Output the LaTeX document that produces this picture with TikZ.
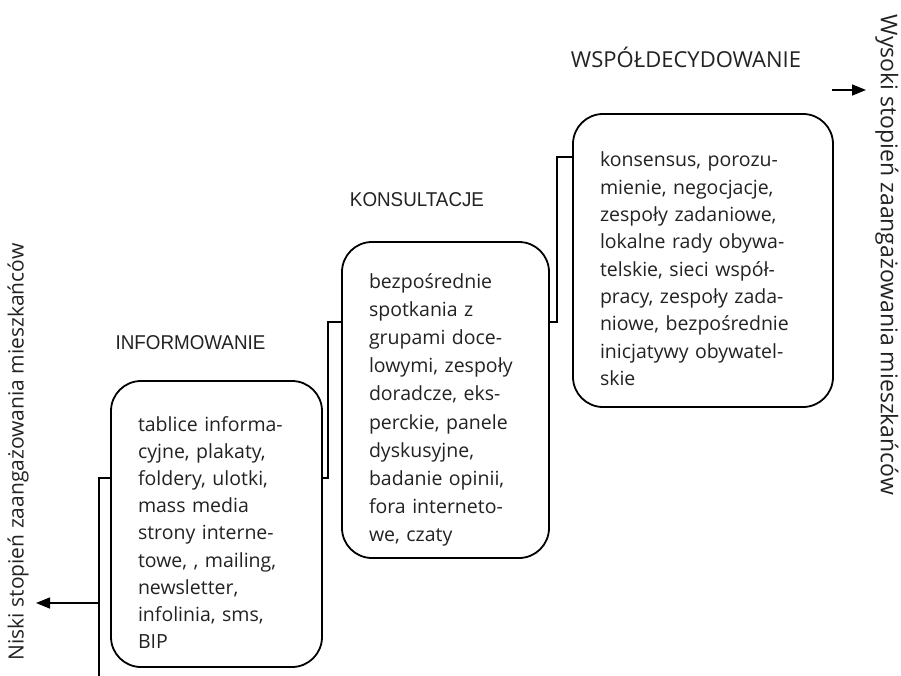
\documentclass[tikz,border=0pt]{standalone}
\usepackage{fontspec}
\setmainfont{Open Sans}
\newfontfamily\titlefont{Liberation Sans}
\usetikzlibrary{arrows.meta}
\definecolor{txt}{HTML}{222222}
\tikzset{
  stagebox/.style={draw=black, line width=1.8pt, rounded corners=30pt, align=left,
    inner xsep=27pt, inner ysep=0pt, text=txt, text height=0pt},
  conn/.style={draw=black, line width=1.5pt},
  arr/.style={conn, -{Triangle[length=14pt,width=11pt]}},
  stagetitle/.style={text=txt, anchor=base, inner sep=0pt},
  sidetext/.style={text=txt, inner sep=0pt}
}
\begin{document}
\begin{tikzpicture}[x=1pt,y=-1pt]
\useasboundingbox (0,0) rectangle (901,676);

% boxes
\node[stagebox, minimum width=211pt, minimum height=286pt, text width=157pt, text depth=186pt,
  font=\fontsize{19.5}{27.2}\selectfont] (b1) at (216.5,524) {tablice informa-\\cyjne, plakaty,\\foldery, ulotki,\\mass media\\strony interne-\\towe, , mailing,\\newsletter,\\infolinia, sms,\\BIP};
\node[stagebox, minimum width=207pt, minimum height=316pt, text width=153pt, text depth=224pt,
  font=\fontsize{19.5}{28.2}\selectfont] (b2) at (445.5,400) {bezpośrednie\\spotkania z\\grupami doce-\\lowymi, zespoły\\doradcze, eks-\\perckie, panele\\dyskusyjne,\\badanie opinii,\\fora interneto-\\we, czaty};
\node[stagebox, minimum width=260pt, minimum height=293pt, text width=206pt, text depth=187pt,
  font=\fontsize{19.5}{27.3}\selectfont] (b3) at (703,260.5) {konsensus, porozu-\\mienie, negocjacje,\\zespoły zadaniowe,\\lokalne rady obywa-\\telskie, sieci współ-\\pracy, zespoły zada-\\niowe, bezpośrednie\\inicjatywy obywatel-\\skie};

% titles
\node[stagetitle, font=\titlefont\fontsize{20}{22}\selectfont, xscale=0.94] (t1) at (190.5,349) {INFORMOWANIE};
\node[stagetitle, font=\titlefont\fontsize{20}{22}\selectfont, xscale=0.94] (t2) at (417,207) {KONSULTACJE};
\node[stagetitle, font=\fontsize{22}{26}\selectfont] (t3) at (686,68) {WSPÓŁDECYDOWANIE};

% side texts
\node[sidetext, rotate=90, font=\fontsize{21}{24}\selectfont] (lowtxt) at (18,452) {Niski stopień zaangażowania mieszkańców};
\node[sidetext, rotate=-90, font=\fontsize{23}{26}\selectfont] (hightxt) at (887,255) {Wysoki stopień zaangażowania mieszkańców};

% connector coordinates
\coordinate (lb) at (99,676);
\coordinate (lt) at (99,478);
\coordinate (la) at (99,603);
\coordinate (lat) at (36,603);
\coordinate (c12b) at (328,478);
\coordinate (c12t) at (328,322);
\coordinate (c23b) at (557,322);
\coordinate (c23t) at (557,157);
\coordinate (ra) at (832,90);
\coordinate (rat) at (866,90);

% connectors
\draw[conn] (lb) -- (lt) -- (lt -| b1.west);
\draw[arr] (la) -- (lat);
\draw[conn] (c12b -| b1.east) -- (c12b) -- (c12t) -- (c12t -| b2.west);
\draw[conn] (c23b -| b2.east) -- (c23b) -- (c23t) -- (c23t -| b3.west);
\draw[arr] (ra) -- (rat);
\end{tikzpicture}
\end{document}
